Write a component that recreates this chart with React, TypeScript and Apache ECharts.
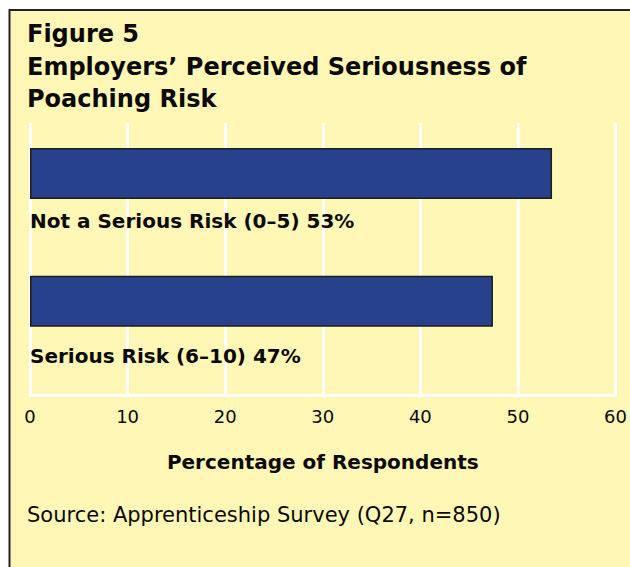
import React, { useEffect, useRef } from "react";
import * as echarts from "echarts";

const titleLines = ["Figure 5", "Employers’ Perceived Seriousness of", "Poaching Risk"];
const categories = ["Not a Serious Risk (0–5)", "Serious Risk (6–10)"];
const values = [53, 47];
const xTicks = { min: 0, max: 60, interval: 10 };
const axisName = "Percentage of Respondents";
const sourceNote = "Source: Apprenticeship Survey (Q27, n=850)";

const FONT = "'DejaVu Sans', 'Open Sans', sans-serif";
const labelOffsets = [73.3, 80.6];
const titleYs = [34, 66.5, 99];

export default function App() {
  const ref = useRef<HTMLDivElement>(null);
  useEffect(() => {
    if (!ref.current) return;
    const chart = echarts.init(ref.current, null, { renderer: "svg" });
    chart.setOption({
      animation: false,
      backgroundColor: "#ffffff",
      textStyle: { fontFamily: FONT },
      graphic: [
        {
          type: "rect",
          z: -100,
          silent: true,
          shape: { x: 9.5, y: 10, width: 700, height: 700 },
          style: { fill: "#FFF7B6", stroke: "#222222", lineWidth: 2 },
        },
        ...titleLines.map((t, i) => ({
          type: "text",
          x: 27,
          y: titleYs[i],
          style: {
            text: t,
            font: `bold 24px ${FONT}`,
            fill: "#0a0a0a",
            textAlign: "left",
            textVerticalAlign: "middle",
          },
        })),
        {
          type: "text",
          x: 27,
          y: 514.5,
          style: {
            text: sourceNote,
            font: `21px ${FONT}`,
            fill: "#0a0a0a",
            textAlign: "left",
            textVerticalAlign: "middle",
          },
        },
      ],
      grid: [
        { left: 30, right: 9, top: 123, bottom: 172 },
        { left: 30, right: 9, top: 109.6, height: 255.4 },
      ],
      xAxis: [
        {
          gridIndex: 0,
          type: "value",
          min: xTicks.min,
          max: xTicks.max,
          interval: xTicks.interval,
          axisLine: { show: true, lineStyle: { color: "#ffffff", width: 3 } },
          axisTick: { show: false },
          splitLine: { show: true, lineStyle: { color: "#ffffff", width: 3 } },
          axisLabel: {
            color: "#0a0a0a",
            fontSize: 18,
            fontFamily: FONT,
            margin: 12,
            showMaxLabel: true,
            hideOverlap: false,
          },
          name: axisName,
          nameLocation: "middle",
          nameGap: 67,
          nameTextStyle: {
            color: "#0a0a0a",
            fontSize: 20,
            fontWeight: "bold",
            fontFamily: FONT,
            verticalAlign: "middle",
          },
        },
        {
          gridIndex: 1,
          type: "value",
          min: xTicks.min,
          max: xTicks.max,
          interval: xTicks.interval,
          show: false,
        },
      ],
      yAxis: [
        { gridIndex: 0, type: "value", show: false },
        {
          gridIndex: 1,
          type: "category",
          data: categories,
          inverse: true,
          show: false,
        },
      ],
      series: [
        {
          type: "bar",
          xAxisIndex: 1,
          yAxisIndex: 1,
          barWidth: 51,
          itemStyle: { color: "#27418C", borderColor: "#1e1e1e", borderWidth: 1.5 },
          data: values.map((v, i) => ({
            value: v,
            label: { position: [0, labelOffsets[i]] },
          })),
          label: {
            show: true,
            formatter: (p: any) => `${p.name} ${p.value}%`,
            align: "left",
            verticalAlign: "middle",
            color: "#0a0a0a",
            fontSize: 20,
            fontWeight: "bold",
            fontFamily: FONT,
          },
        },
      ],
    });
    return () => chart.dispose();
  }, []);
  return (
    <div
      ref={ref}
      style={{ position: "absolute", left: 0, top: 0, width: 630, height: 567 }}
    />
  );
}
